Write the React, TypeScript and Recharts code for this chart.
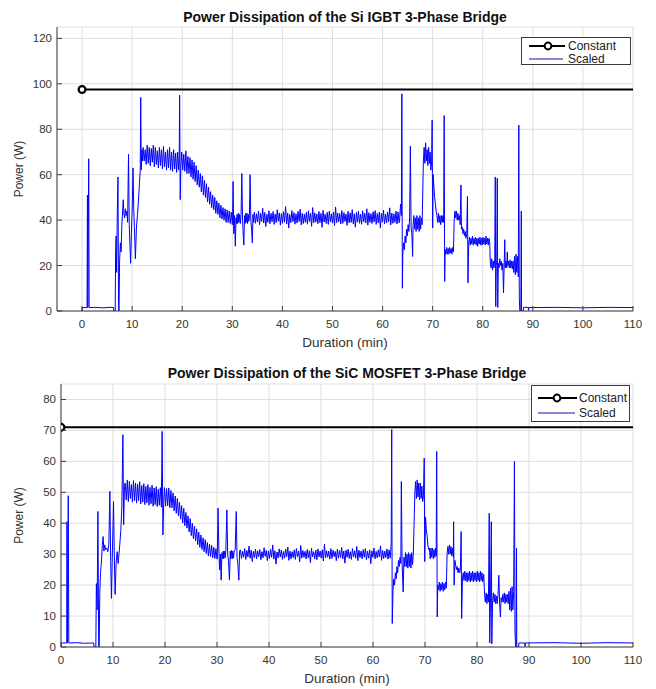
import React from 'react';
import { LineChart, Line, XAxis, YAxis, CartesianGrid, Legend, Label } from 'recharts';

type Pt = [number, number];

// ---------------- Si IGBT bridge (top chart) ----------------
const siConstant = 97.5;
const siStartup: Pt[] = [
  [0, 0], [0.03, 1.5], [1.0, 1.5], [1.08, 51], [1.16, 1.5], [1.33, 67], [1.42, 1.5], [2.6, 1.6], [4.2, 1.4],
  [5.6, 1.6], [6.3, 1.5], [6.33, 0], [6.62, 0], [6.7, 26], [6.8, 33], [6.9, 17], [7.05, 45], [7.18, 59],
  [7.28, 3], [7.38, 0], [7.5, 22], [7.65, 30], [7.8, 26], [7.95, 38], [8.1, 44], [8.22, 49], [8.35, 43],
  [8.5, 41], [8.65, 45], [8.8, 42], [8.95, 44], [9.1, 39], [9.28, 69], [9.42, 38], [9.55, 30], [9.7, 21],
  [9.85, 34], [10.0, 44], [10.18, 63], [10.32, 45], [10.45, 37], [10.65, 23], [10.85, 36], [11.05, 42],
  [11.25, 48], [11.45, 56], [11.62, 62], [11.72, 94], [11.82, 62], [11.95, 71], [12.05, 66],
];
const siPlateauSpan: Pt = [12.2, 19.3];
const siPlateauHi = [72, 71, 73, 72, 71.5, 73, 72, 70.5, 72, 71, 72.5, 70, 71, 72, 70, 71, 69.5, 70];
const siPlateauLo = [66, 64.5, 65, 64, 65.5, 63.5, 64.5, 63, 64, 62.5, 63.5, 62, 63, 62, 61.5, 62.5, 61, 62];
const siPeak20: Pt[] = [[19.4, 66], [19.48, 95], [19.6, 49], [19.72, 63]];
const siDeclineSpan: Pt = [19.9, 30.0];
const siDeclineHi = [70, 69, 70.5, 68, 67.5, 66.5, 65.5, 64, 62, 60.5, 59.5, 57.5, 56, 54.5, 52.5, 51, 50, 48.5, 47.5, 46.5, 45.5, 45, 44.5, 44, 43.5];
const siDeclineLo = [62, 61.5, 60.5, 60.5, 59, 58, 57, 55.5, 54.5, 52.5, 51, 50, 48, 47, 45.5, 44.5, 43, 42.5, 41, 40.5, 40, 39, 39, 38.5, 38];
const siRipple30: Pt[] = [
  [30.05, 40], [30.15, 57], [30.3, 34], [30.45, 42], [30.6, 28.5], [30.75, 41], [30.85, 38.5], [30.95, 42.5],
  [31.05, 38.5], [31.2, 43], [31.3, 39], [31.45, 42.5], [31.6, 38.5], [31.75, 42.5], [31.9, 60.5], [32.05, 40],
  [32.15, 35], [32.3, 29], [32.45, 42], [32.55, 38.5], [32.7, 43], [32.8, 39], [32.95, 43], [33.05, 38.5],
  [33.2, 42.5], [33.3, 39.5], [33.42, 42], [33.55, 60], [33.7, 40], [33.85, 36], [34.0, 30], [34.12, 42.5],
  [34.25, 39],
];
const siSteadySpan: Pt = [34.4, 63.3];
const siSteadyHi = [
  43.5, 42.8, 44, 43, 45.2, 43.4, 42.6, 44.1, 43, 43.8, 42.7, 44.6, 43.2, 42.9, 43.7, 46, 43.1, 42.5, 44.2, 43.3,
  42.8, 43.9, 44.8, 43, 42.6, 43.5, 44.1, 42.9, 45.5, 43.2, 42.7, 43.8, 43, 44.3, 42.6, 43.4, 44, 42.8, 43.6, 45.8,
  43.1, 42.9, 44.2, 43.3, 42.7, 43.9, 43.2, 44.6, 42.8, 43.4, 43.9, 42.6, 44.1, 43, 45, 43.3, 42.8, 43.7, 44.2, 42.9,
  43.5, 43, 44.4, 42.7, 43.6, 45.4, 43.1, 42.8, 44, 43.6,
];
const siSteadyLo = [
  38.6, 39.2, 38, 39.4, 38.7, 37.2, 39, 38.4, 39.3, 38.1, 38.9, 39.5, 37.8, 38.6, 39.1, 38.3, 36.5, 38.9, 39.3, 38.2,
  38.7, 39.4, 37.9, 38.5, 39, 38.2, 39.4, 37.3, 38.8, 39.1, 38.4, 38.9, 36.8, 39.2, 38.5, 38.1, 39.3, 38.7, 37.6, 38.9,
  39.2, 38.3, 38.6, 39.4, 37.7, 38.8, 39, 38.4, 36.9, 39.1, 38.6, 38.2, 39.3, 38.7, 37.8, 39, 38.5, 39.2, 38.1, 38.8,
  36.6, 39.1, 38.4, 38.9, 39.3, 37.9, 38.6, 39, 38.3, 38.8,
];
const siDrive: Pt[] = [
  [63.4, 40], [63.5, 44], [63.6, 47], [63.75, 42], [63.85, 95.6], [63.95, 10], [64.05, 25.5], [64.2, 30],
  [64.35, 27], [64.5, 33], [64.65, 30], [64.8, 36], [64.95, 33], [65.1, 38], [65.25, 35], [65.4, 41],
  [65.55, 72.5], [65.7, 37], [65.85, 34], [66.0, 24], [66.1, 38], [66.25, 42], [66.4, 36], [66.55, 41],
  [66.7, 35], [66.85, 42], [67.0, 36], [67.15, 41], [67.3, 35], [67.45, 42], [67.6, 36], [67.75, 41],
  [67.9, 38], [68.05, 55], [68.15, 66], [68.3, 72], [68.45, 65], [68.6, 74], [68.75, 66], [68.9, 71],
  [69.05, 64], [69.2, 72], [69.35, 65], [69.5, 70], [69.65, 62], [69.8, 66], [69.9, 84], [70.0, 36.5],
  [70.1, 60], [70.25, 55], [70.4, 50], [70.55, 47], [70.7, 44], [70.85, 42], [71.0, 39], [71.15, 43],
  [71.3, 39], [71.45, 42], [71.6, 38], [71.75, 42], [71.9, 39], [72.05, 42], [72.2, 39], [72.3, 86],
  [72.4, 13], [72.5, 27], [72.65, 25], [72.8, 28], [72.95, 25], [73.1, 27.5], [73.25, 25], [73.4, 28],
  [73.55, 25.5], [73.7, 27.5], [73.85, 25], [74.0, 28], [74.15, 26], [74.3, 40], [74.45, 44], [74.6, 41],
  [74.75, 44], [74.9, 40], [75.05, 43], [75.2, 40], [75.35, 42], [75.5, 38], [75.65, 55.5], [75.75, 36],
  [75.9, 37], [76.05, 34], [76.2, 36], [76.35, 33], [76.5, 35], [76.65, 32], [76.8, 34], [76.95, 50.4],
  [77.05, 12.4], [77.2, 30], [77.35, 32.5], [77.5, 29], [77.65, 32], [77.8, 29.5], [77.95, 33], [78.1, 29],
  [78.25, 32], [78.4, 29.5], [78.55, 32.5], [78.7, 29], [78.85, 32], [79.0, 28.5], [79.15, 32], [79.3, 29.5],
  [79.45, 32.5], [79.6, 29], [79.75, 32], [79.9, 29], [80.05, 32.5], [80.2, 29.5], [80.35, 32], [80.5, 29],
  [80.65, 33], [80.8, 29.5], [80.95, 32], [81.1, 29], [81.25, 32], [81.4, 30], [81.5, 22], [81.65, 19],
  [81.8, 23], [81.95, 18], [82.1, 22], [82.25, 19], [82.4, 23], [82.5, 59], [82.6, 2], [82.7, 20],
  [82.8, 22], [82.9, 58.4], [83.0, 1.5], [83.1, 21], [83.25, 19], [83.4, 23], [83.55, 20], [83.7, 22],
  [83.85, 18], [84.0, 21], [84.15, 8], [84.3, 22], [84.4, 31.4], [84.5, 19], [84.65, 22], [84.8, 19],
  [84.9, 26], [85.0, 20], [85.15, 22], [85.3, 19], [85.45, 22.5], [85.6, 19], [85.75, 22], [85.9, 18.5],
  [86.05, 22], [86.2, 17], [86.35, 24], [86.5, 16], [86.65, 25], [86.8, 17], [86.95, 24], [87.1, 15],
  [87.2, 81.8], [87.3, 6], [87.4, 0], [87.6, 0], [87.7, 44], [87.75, 0],
];
const siTail: Pt[] = [
  [88.1, 0], [88.15, 1.6], [89.1, 1.6], [89.15, 0.3], [89.2, 1.5], [95, 1.6], [100, 1.4], [105, 1.6], [110, 1.5],
];

// ---------------- SiC MOSFET bridge (bottom chart) ----------------
const sicConstant = 71;
const sicStartup: Pt[] = [
  [0, 0], [0.03, 1.3], [1.1, 1.3], [1.15, 40.5], [1.25, 1.3], [1.4, 48.9], [1.5, 1.3], [3, 1.4], [4.5, 1.2],
  [6.3, 1.3], [6.35, 0], [6.7, 0], [6.8, 20.5], [6.95, 12], [7.1, 43.8], [7.25, 0], [7.35, 0], [7.45, 17],
  [7.6, 24], [7.75, 27], [7.95, 33], [8.1, 35.7], [8.25, 31], [8.4, 33], [8.6, 31.5], [8.8, 32], [9.0, 30.8],
  [9.2, 33], [9.4, 50.3], [9.55, 28], [9.7, 15.7], [9.9, 32], [10.1, 47], [10.25, 30], [10.4, 17], [10.6, 27],
  [10.8, 30.8], [11.0, 27], [11.1, 29], [11.3, 33], [11.5, 37.7], [11.7, 45], [11.9, 68.6], [12.05, 39.5],
  [12.2, 51.9],
];
const sicPlateauSpan: Pt = [12.35, 19.3];
const sicPlateauHi = [53, 54, 53.5, 52.5, 53.8, 53, 52.6, 53.4, 52.2, 52.8, 51.9, 52.5, 51.6, 52.3, 51.4, 51.8, 51, 51.5];
const sicPlateauLo = [47.5, 47, 48, 46.8, 47.2, 46.5, 47.3, 46.2, 46.8, 46, 46.6, 45.8, 46.3, 45.5, 46, 45.4, 45.8, 45.2];
const sicPeak20: Pt[] = [[19.45, 69.7], [19.6, 36.2], [19.75, 47]];
const sicDeclineSpan: Pt = [19.9, 30.0];
const sicDeclineHi = [51.5, 51.2, 51.4, 50.6, 49.8, 48.8, 48, 46.8, 45.7, 44.8, 43.5, 42.4, 41.5, 40, 39, 38.2, 37.1, 36.2, 35.3, 34.7, 33.8, 33.2, 32.9, 32.2, 31.8];
const sicDeclineLo = [45.5, 45.6, 45, 45, 44, 43.2, 42.4, 41.3, 40.1, 39.2, 38.4, 37.2, 36, 35, 34.3, 33.1, 32.2, 31.5, 30.8, 30.2, 29.4, 29.2, 28.8, 28.6, 28.4];
const sicRipple30: Pt[] = [
  [30.05, 28.5], [30.2, 44.9], [30.35, 32], [30.5, 24.9], [30.65, 30], [30.8, 21.6], [30.95, 30.5],
  [31.05, 28.6], [31.2, 31], [31.3, 28.5], [31.45, 31], [31.58, 28.8], [31.7, 31], [31.9, 44.3], [32.05, 30],
  [32.2, 28], [32.4, 21.6], [32.55, 31], [32.65, 28.6], [32.8, 31.2], [32.92, 28.5], [33.05, 31], [33.18, 28.7],
  [33.3, 31], [33.5, 31.5], [33.7, 43.8], [33.85, 29], [34.0, 27], [34.2, 21.6], [34.35, 31],
];
const sicSteadySpan: Pt = [34.5, 63.3];
const sicSteadyHi = [
  31.4, 31, 31.8, 31.2, 32.6, 31.3, 30.9, 31.6, 31.1, 31.5, 30.8, 32.1, 31.2, 31, 31.5, 33, 31.1, 30.7, 31.7, 31.3,
  30.9, 31.6, 32.3, 31, 30.8, 31.4, 31.8, 31, 32.8, 31.2, 30.9, 31.5, 31.1, 31.9, 30.8, 31.3, 31.7, 31, 31.4, 33.2,
  31.1, 31, 31.8, 31.3, 30.9, 31.6, 31.2, 32.2, 31, 31.3, 31.6, 30.8, 31.8, 31.1, 32.5, 31.3, 31, 31.5, 31.8, 31,
  31.4, 31.1, 32, 30.9, 31.4, 32.7, 31.2, 31, 31.7, 31.4,
];
const sicSteadyLo = [
  28.6, 29, 28.3, 29.1, 28.7, 27.6, 28.9, 28.5, 29.2, 28.2, 28.8, 29.3, 27.9, 28.6, 29, 28.4, 26.8, 28.8, 29.1, 28.3,
  28.7, 29.2, 28, 28.5, 28.9, 28.3, 29.2, 27.5, 28.7, 29, 28.5, 28.8, 27.2, 29.1, 28.5, 28.2, 29.1, 28.7, 27.8, 28.8,
  29, 28.4, 28.6, 29.2, 27.9, 28.7, 28.9, 28.5, 27.1, 29, 28.6, 28.3, 29.1, 28.7, 27.9, 28.9, 28.5, 29, 28.2, 28.7,
  26.9, 29, 28.5, 28.8, 29.1, 28, 28.6, 28.9, 28.4, 28.7,
];
const sicDrive: Pt[] = [
  [63.4, 31], [63.5, 33.5], [63.6, 70.3], [63.7, 7.6], [63.85, 18.4], [64.0, 22], [64.15, 20], [64.3, 24],
  [64.45, 22], [64.6, 26], [64.75, 24], [64.9, 28], [65.05, 26], [65.2, 29], [65.35, 27], [65.45, 53.5],
  [65.6, 27], [65.8, 17.8], [65.95, 29], [66.1, 26], [66.25, 30.5], [66.4, 26], [66.55, 30], [66.7, 25.5],
  [66.85, 30.5], [67.0, 26], [67.15, 30], [67.3, 25.5], [67.45, 30.5], [67.6, 26.5], [67.75, 30], [67.9, 40],
  [68.05, 50], [68.2, 53.5], [68.35, 48], [68.5, 54], [68.65, 48.5], [68.8, 53], [68.95, 47.5], [69.1, 53],
  [69.25, 48], [69.4, 52], [69.55, 47], [69.7, 49], [69.85, 61], [69.95, 27.6], [70.1, 42], [70.25, 38],
  [70.4, 36], [70.55, 33], [70.7, 31.5], [70.85, 32], [71.0, 28.5], [71.15, 32], [71.3, 29], [71.45, 32],
  [71.6, 28.5], [71.75, 31.5], [71.9, 29], [72.05, 32], [72.15, 29.5], [72.25, 63.2], [72.35, 9.7],
  [72.45, 20], [72.6, 18.5], [72.75, 21], [72.9, 18], [73.05, 20.5], [73.2, 18.5], [73.35, 21], [73.5, 18],
  [73.65, 20.5], [73.8, 18.5], [73.95, 21], [74.1, 19], [74.25, 30], [74.4, 32.5], [74.55, 30], [74.7, 33],
  [74.85, 30], [75.0, 32.5], [75.15, 29.5], [75.3, 32], [75.45, 29], [75.5, 40.5], [75.6, 20], [75.75, 28],
  [75.9, 26.5], [76.05, 25], [76.2, 26], [76.35, 24], [76.5, 25.5], [76.65, 24], [76.8, 25], [76.95, 37.3],
  [77.05, 9.2], [77.2, 22], [77.35, 24], [77.5, 21.5], [77.65, 24.5], [77.8, 21.5], [77.95, 24], [78.1, 21],
  [78.25, 24], [78.4, 21.5], [78.55, 24.5], [78.7, 21], [78.85, 24], [79.0, 21.5], [79.15, 24.5], [79.3, 21],
  [79.45, 24], [79.6, 21.5], [79.75, 24], [79.9, 21], [80.05, 24.5], [80.2, 21.5], [80.35, 24], [80.5, 21],
  [80.65, 24.5], [80.8, 21.5], [80.95, 24], [81.1, 21], [81.3, 23.5], [81.45, 17], [81.6, 14.5], [81.75, 17.5],
  [81.9, 14], [82.05, 17], [82.2, 14.5], [82.35, 43.2], [82.45, 1.3], [82.6, 16], [82.75, 40.5], [82.85, 1.0],
  [83.0, 15], [83.15, 17.5], [83.3, 14.5], [83.45, 17], [83.6, 14], [83.75, 16.5], [83.9, 14], [84.05, 17],
  [84.2, 23.2], [84.35, 14], [84.5, 9.7], [84.65, 16], [84.8, 14.5], [84.95, 17], [85.1, 14.5], [85.25, 17.5],
  [85.4, 14], [85.55, 17], [85.7, 14.5], [85.85, 17], [86.0, 14], [86.15, 18], [86.3, 12], [86.45, 19],
  [86.6, 11.5], [86.75, 19.5], [86.9, 12], [87.05, 18], [87.2, 60], [87.3, 5], [87.4, 1], [87.5, 0],
  [87.6, 31.9], [87.65, 0],
];
const sicTail: Pt[] = [
  [88.0, 0], [88.05, 1.3], [89.2, 1.3], [89.25, 0.2], [89.3, 1.3], [95, 1.4], [100, 1.2], [105, 1.4], [110, 1.3],
];

// ---------------- axes ----------------
const xTicks = [0, 10, 20, 30, 40, 50, 60, 70, 80, 90, 100, 110];
const siYTicks = [0, 20, 40, 60, 80, 100, 120];
const sicYTicks = [0, 10, 20, 30, 40, 50, 60, 70, 80];

// ---------------- helpers ----------------
// A noisy band: upper- and lower-edge samples, drawn alternately across the span.
const band = (span: Pt, hi: number[], lo: number[]): Pt[] => {
  const n = Math.min(hi.length, lo.length);
  const total = 2 * n - 1;
  const out: Pt[] = [];
  for (let i = 0; i < n; i++) {
    out.push([span[0] + ((span[1] - span[0]) * (2 * i)) / total, hi[i]]);
    out.push([span[0] + ((span[1] - span[0]) * (2 * i + 1)) / total, lo[i]]);
  }
  return out;
};

const toRows = (pts: Pt[]) => pts.map(([t, p]) => ({ t, p }));

const siSeries = toRows([
  ...siStartup, ...band(siPlateauSpan, siPlateauHi, siPlateauLo), ...siPeak20,
  ...band(siDeclineSpan, siDeclineHi, siDeclineLo), ...siRipple30,
  ...band(siSteadySpan, siSteadyHi, siSteadyLo), ...siDrive, ...siTail,
]);
const sicSeries = toRows([
  ...sicStartup, ...band(sicPlateauSpan, sicPlateauHi, sicPlateauLo), ...sicPeak20,
  ...band(sicDeclineSpan, sicDeclineHi, sicDeclineLo), ...sicRipple30,
  ...band(sicSteadySpan, sicSteadyHi, sicSteadyLo), ...sicDrive, ...sicTail,
]);

const FONT = '"Liberation Sans", Arial, Helvetica, sans-serif';
const BLUE = '#0000ff';
const AXIS = '#3c3c3c';
const TXT = '#333333';
const GRID = '#dedede';

const BottomTick = (props: any) => {
  const { x, y, payload } = props;
  return (
    <g>
      <line x1={x} x2={x} y1={y} y2={y - 5} stroke={AXIS} strokeWidth={1} />
      <text x={x} y={y + 13} textAnchor="middle" dominantBaseline="central" fontSize={11.5} fill={TXT} fontFamily={FONT}>
        {payload.value}
      </text>
    </g>
  );
};
const TopTick = (props: any) => {
  const { x, y } = props;
  return <line x1={x} x2={x} y1={y} y2={y + 5} stroke={AXIS} strokeWidth={1} />;
};
const LeftTick = (props: any) => {
  const { x, y, payload } = props;
  return (
    <g>
      <line x1={x} x2={x + 5} y1={y} y2={y} stroke={AXIS} strokeWidth={1} />
      <text x={x - 5} y={y} textAnchor="end" dominantBaseline="central" fontSize={11.5} fill={TXT} fontFamily={FONT}>
        {payload.value}
      </text>
    </g>
  );
};
const RightTick = (props: any) => {
  const { x, y } = props;
  return <line x1={x} x2={x - 5} y1={y} y2={y} stroke={AXIS} strokeWidth={1} />;
};

type LegendGeo = {
  left: number; top: number; w: number; h: number; row1: number; row2: number;
  lx1: number; lx2: number; mx: number; tx: number;
};

type PanelCfg = {
  title: string;
  titleX: number;
  titleY: number;
  top: number;
  height: number;
  marginTop: number;
  yAxisWidth: number;
  xAxisHeight: number;
  xDomain: [number, number];
  yDomain: [number, number];
  yTicks: number[];
  series: { t: number; p: number }[];
  constant: number;
  legend: LegendGeo;
};

const LegendBox = ({ g }: { g: LegendGeo }) => (
  <svg width={g.w} height={g.h} style={{ display: 'block' }}>
    <rect x={0.5} y={0.5} width={g.w - 1} height={g.h - 1} fill="#ffffff" stroke="#3c3c3c" strokeWidth={1} />
    <line x1={g.lx1} x2={g.lx2} y1={g.row1} y2={g.row1} stroke="#000" strokeWidth={2} />
    <circle cx={g.mx} cy={g.row1} r={3.4} fill="#fff" stroke="#000" strokeWidth={2} />
    <text x={g.tx} y={g.row1} dominantBaseline="central" fontSize={12} fill="#222" fontFamily={FONT}>Constant</text>
    <line x1={g.lx1} x2={g.lx2 - 2} y1={g.row2} y2={g.row2} stroke="#1010b0" strokeWidth={1} />
    <text x={g.tx} y={g.row2} dominantBaseline="central" fontSize={12} fill="#222" fontFamily={FONT}>Scaled</text>
  </svg>
);

function Panel({ cfg }: { cfg: PanelCfg }) {
  const constData = [
    { t: 0, p: cfg.constant },
    { t: 110, p: cfg.constant },
  ];
  const marker = (props: any) =>
    props.index === 0 ? (
      <circle key="mk" cx={props.cx} cy={props.cy} r={3.4} fill="#fff" stroke="#000" strokeWidth={2.2} />
    ) : (
      <g key={`mk${props.index}`} />
    );
  return (
    <div style={{ position: 'absolute', left: 0, top: cfg.top, width: 656, height: cfg.height }}>
      <LineChart width={656} height={cfg.height} margin={{ top: cfg.marginTop, right: 23, bottom: 0, left: 0 }}>
        <CartesianGrid stroke={GRID} strokeWidth={1} />
        <XAxis
          dataKey="t" type="number" domain={cfg.xDomain} ticks={xTicks} interval={0} height={cfg.xAxisHeight}
          tickSize={0} tickMargin={0} tickLine={false} axisLine={{ stroke: AXIS }} tick={BottomTick} allowDataOverflow
        >
          <Label
            content={(p: any) => {
              const vb = p.viewBox || {};
              return (
                <text x={vb.x + vb.width / 2} y={vb.y + 31} textAnchor="middle" dominantBaseline="central" fontSize={13.5} fill={TXT} fontFamily={FONT}>
                  Duration (min)
                </text>
              );
            }}
          />
        </XAxis>
        <XAxis
          xAxisId="top" orientation="top" dataKey="t" type="number" domain={cfg.xDomain} ticks={xTicks} interval={0}
          height={0} tickSize={0} tickMargin={0} tickLine={false} axisLine={{ stroke: AXIS }} tick={TopTick} allowDataOverflow
        />
        <YAxis
          type="number" domain={cfg.yDomain} ticks={cfg.yTicks} interval={0} width={cfg.yAxisWidth}
          tickSize={0} tickMargin={0} tickLine={false} axisLine={{ stroke: AXIS }} tick={LeftTick} allowDataOverflow
        >
          <Label
            content={(p: any) => {
              const vb = p.viewBox || {};
              const cy = vb.y + vb.height / 2;
              return (
                <text x={19} y={cy} transform={`rotate(-90, 19, ${cy})`} textAnchor="middle" dominantBaseline="central" fontSize={12} fill={TXT} fontFamily={FONT}>
                  Power (W)
                </text>
              );
            }}
          />
        </YAxis>
        <YAxis
          yAxisId="right" orientation="right" type="number" domain={cfg.yDomain} ticks={cfg.yTicks} interval={0}
          width={0} tickSize={0} tickMargin={0} tickLine={false} axisLine={{ stroke: AXIS }} tick={RightTick} allowDataOverflow
        />
        <Legend
          layout="horizontal" verticalAlign="middle" align="center"
          wrapperStyle={{ position: 'absolute', left: cfg.legend.left, top: cfg.legend.top, width: cfg.legend.w, height: cfg.legend.h }}
          content={() => <LegendBox g={cfg.legend} />}
        />
        <Line
          data={constData} dataKey="p" name="Constant" stroke="#000" strokeWidth={2} dot={marker}
          activeDot={false} isAnimationActive={false}
        />
        <Line
          data={cfg.series} dataKey="p" name="Scaled" stroke={BLUE} strokeWidth={1} dot={false}
          activeDot={false} isAnimationActive={false}
        />
        <Line
          xAxisId="top" yAxisId="right" data={constData} dataKey="p" stroke="none" dot={false}
          activeDot={false} legendType="none" isAnimationActive={false}
        />
      </LineChart>
      <div
        style={{
          position: 'absolute', left: cfg.titleX - 250, top: cfg.titleY - 9, width: 500, height: 18,
          lineHeight: '18px', textAlign: 'center', fontFamily: FONT, fontWeight: 'bold', fontSize: 14, color: '#111',
          pointerEvents: 'none',
        }}
      >
        {cfg.title}
      </div>
    </div>
  );
}

const siCfg: PanelCfg = {
  title: 'Power Dissipation of the Si IGBT 3-Phase Bridge',
  titleX: 345,
  titleY: 17,
  top: 0,
  height: 350,
  marginTop: 27,
  yAxisWidth: 57,
  xAxisHeight: 39,
  xDomain: [-5, 110],
  yDomain: [0, 125],
  yTicks: siYTicks,
  series: siSeries,
  constant: siConstant,
  legend: { left: 521, top: 37, w: 110, h: 28, row1: 9, row2: 22, lx1: 8, lx2: 44, mx: 27, tx: 47 },
};

const sicCfg: PanelCfg = {
  title: 'Power Dissipation of the SiC MOSFET 3-Phase Bridge',
  titleX: 347,
  titleY: 18,
  top: 355,
  height: 334,
  marginTop: 29,
  yAxisWidth: 61,
  xAxisHeight: 42,
  xDomain: [0, 110],
  yDomain: [0, 85],
  yTicks: sicYTicks,
  series: sicSeries,
  constant: sicConstant,
  legend: { left: 531, top: 30, w: 99, h: 37, row1: 13, row2: 28, lx1: 7, lx2: 46, mx: 26, tx: 48 },
};

export default function App() {
  return (
    <div style={{ position: 'absolute', left: 0, top: 0, width: 656, height: 689, background: '#fff', fontFamily: FONT }}>
      <Panel cfg={siCfg} />
      <Panel cfg={sicCfg} />
    </div>
  );
}
